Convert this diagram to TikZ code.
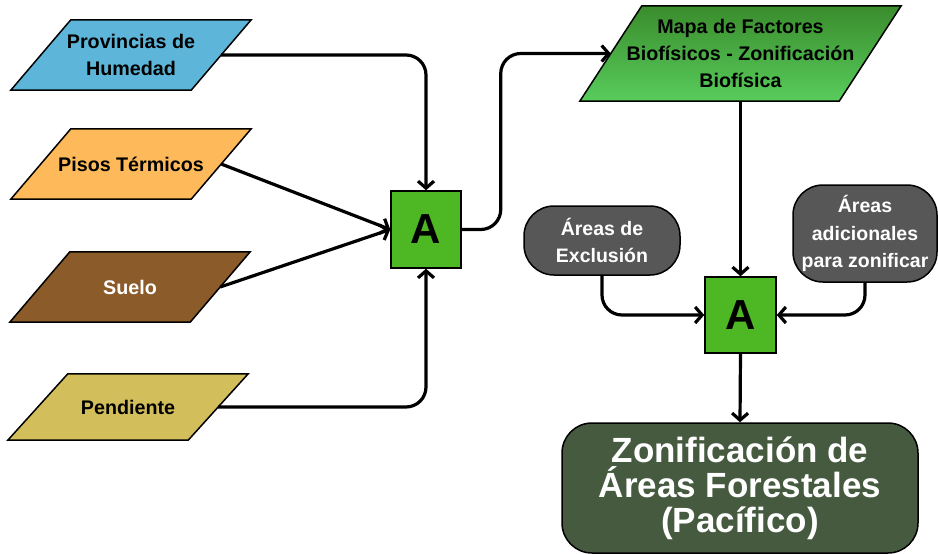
\documentclass[tikz,border=0pt]{standalone}
\usepackage{fontspec}
\setmainfont{Liberation Sans}
\usetikzlibrary{arrows.meta,backgrounds}
\definecolor{provblue}{HTML}{5DB6DA}
\definecolor{pisosorange}{HTML}{FDB95A}
\definecolor{suelobrown}{HTML}{8C5B2A}
\definecolor{pendyellow}{HTML}{D3BE5C}
\definecolor{opgreen}{HTML}{4DB823}
\definecolor{mapdark}{HTML}{3A8C2C}
\definecolor{maplight}{HTML}{58CC5C}
\definecolor{areagray}{HTML}{575757}
\definecolor{finalgreen}{HTML}{465A40}
% parallelogram behind a named node
\newcommand\slantbox[3]{\draw[line width=1.5pt,#2] ([xshift=#3]#1.north west) -- ([xshift=#3]#1.north east) -- ([xshift=-#3]#1.south east) -- ([xshift=-#3]#1.south west) -- cycle;}
\begin{document}
\begin{tikzpicture}[x=1pt,y=-1pt,
  data/.style={minimum width=180pt,minimum height=70pt,inner sep=0pt,align=center,font=\bfseries\fontsize{19.7}{27}\selectfont},
  opbox/.style={draw,line width=1.5pt,fill=opgreen,minimum width=70pt,minimum height=77pt,inner sep=0pt,font=\bfseries\fontsize{42}{42}\selectfont},
  area/.style={draw,line width=1.5pt,fill=areagray,text=white,rounded corners=30pt,inner sep=0pt,align=center,font=\bfseries\fontsize{19.5}{27.5}\selectfont},
  link/.style={line width=3.2pt,rounded corners=20pt,-{Straight Barb[length=7pt,width=16pt]}}]
\useasboundingbox (0,0) rectangle (938,554);
% Input layers
\node[data] (prov) at (131,55) {Provincias de\\Humedad};
\node[data] (pisos) at (131,164) {Pisos Térmicos};
\node[data,text=white] (suelo) at (130,287) {Suelo};
\node[data,minimum height=66pt] (pend) at (128,407) {Pendiente};
\node[data,minimum width=259pt,minimum height=95pt] (mapa) at (740.5,53.5) {Mapa de Factores\\Biofísicos - Zonificación\\Biofísica};
\begin{scope}[on background layer]
\slantbox{prov}{fill=provblue}{30pt}
\slantbox{pisos}{fill=pisosorange}{30pt}
\slantbox{suelo}{fill=suelobrown}{30pt}
\slantbox{pend}{fill=pendyellow}{30pt}
\slantbox{mapa}{top color=mapdark,bottom color=maplight}{31pt}
\end{scope}
% Operations
\node[opbox] (a1) at (426,229.5) {A};
\node[opbox,minimum width=71pt,minimum height=76pt] (a2) at (740.5,315) {A};
% Extra areas
\node[area,minimum width=156pt,minimum height=69pt] (excl) at (602,240.5) {Áreas de\\Exclusión};
\node[area,minimum width=144pt,minimum height=97pt] (adic) at (865,233.5) {Áreas\\adicionales\\para zonificar};
% Result
\node[draw,line width=1.5pt,fill=finalgreen,text=white,rounded corners=30pt,minimum width=356pt,minimum height=130pt,inner sep=0pt,align=center,font=\bfseries\fontsize{35}{35}\selectfont] (final) at (740,488) {Zonificación de\\Áreas Forestales\\(Pacífico)};
% Connectors
\draw[link] (prov.east) -| (a1.north);
\draw[link] (pisos.east) -- (a1.west);
\draw[link] (suelo.east) -- (a1.west);
\draw[link] (pend.east) -| (a1.south);
\draw[link] (a1.east) -- ++(39,0) |- (mapa.west);
\draw[link] (mapa.south) -- (a2.north);
\draw[link] (excl.south) |- (a2.west);
\draw[link] (adic.south) |- (a2.east);
\draw[link] (a2.south) -- (final.north);
\end{tikzpicture}
\end{document}
